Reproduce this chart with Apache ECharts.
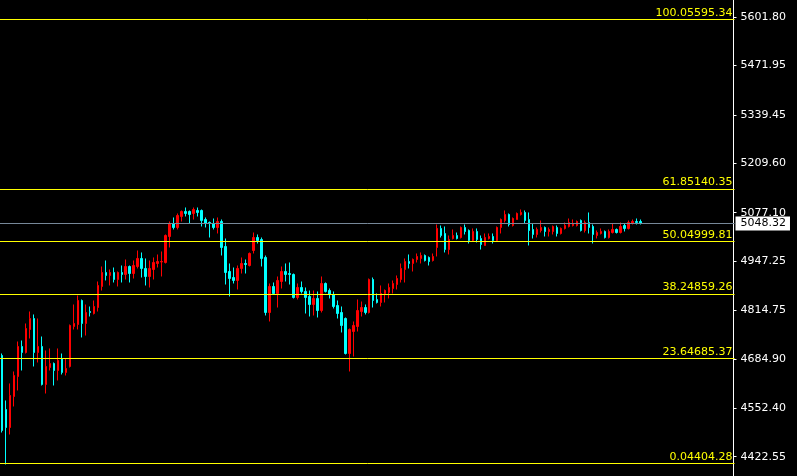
<!DOCTYPE html>
<html>
<head>
<meta charset="utf-8">
<script src="https://cdn.jsdelivr.net/npm/echarts@6/dist/echarts.min.js"></script>
<style>
  html, body { margin: 0; padding: 0; background: #000; }
  #chart { width: 797px; height: 476px; }
</style>
</head>
<body>
<div id="chart"></div>
<script>
// candle values, oldest first
const opens = [
  4694.0, 4549.1, 4500.8, 4584.0, 4637.6, 4718.1, 4702.0, 4763.7, 4793.2, 4702.0,
  4718.1, 4616.2, 4661.8, 4672.5, 4653.7, 4685.9, 4648.4, 4664.5, 4771.8, 4777.1,
  4841.5, 4779.8, 4812.0, 4806.6, 4822.7, 4879.1, 4916.6, 4908.6, 4916.6, 4897.9,
  4916.6, 4911.3, 4932.7, 4913.9, 4932.7, 4954.2, 4927.4, 4905.9, 4924.7, 4940.8,
  4944.8, 4943.5, 5013.2, 5048.1, 5037.4, 5066.9, 5080.3, 5080.3, 5074.9, 5083.0,
  5083.0, 5058.8, 5050.8, 5048.1, 5037.4, 5053.4, 4986.4, 4919.3, 4903.2, 4895.2,
  4927.4, 4940.8, 4935.4, 4975.6, 5010.5, 5005.2, 4956.9, 4809.3, 4879.1, 4860.3,
  4892.5, 4919.3, 4913.9, 4911.3, 4849.6, 4876.4, 4865.7, 4852.3, 4830.8, 4846.9,
  4814.7, 4887.1, 4868.3, 4857.6, 4828.1, 4809.3, 4793.2, 4699.3, 4758.4, 4771.8,
  4812.0, 4822.7, 4809.3, 4897.9, 4844.2, 4836.2, 4860.3, 4863.0, 4873.7, 4884.4,
  4897.9, 4924.7, 4946.1, 4940.8, 4951.5, 4954.2, 4962.2, 4956.9, 4948.8, 4983.7,
  5034.7, 5021.3, 4978.3, 5007.8, 5015.9, 5010.5, 5037.4, 5029.3, 5002.5, 5026.6,
  5007.8, 4989.1, 5007.8, 5013.2, 5002.5, 5037.4, 5056.1, 5072.2, 5042.7, 5058.8,
  5072.2, 5077.6, 5058.8, 5032.0, 5018.6, 5029.3, 5037.4, 5026.6, 5026.6, 5037.4,
  5021.3, 5034.7, 5040.0, 5042.7, 5042.7, 5056.1, 5029.3, 5050.8, 5040.0, 5015.9,
  5021.3, 5026.6, 5010.5, 5023.9, 5032.0, 5023.9, 5042.7, 5034.7, 5048.1, 5053.4,
  5053.4
];
const closes = [
  4492.8, 4500.8, 4586.7, 4640.3, 4718.1, 4702.0, 4766.4, 4793.2, 4702.0, 4718.1,
  4616.2, 4664.5, 4672.5, 4653.7, 4680.6, 4648.4, 4659.1, 4774.5, 4779.8, 4841.5,
  4779.8, 4809.3, 4809.3, 4825.4, 4881.8, 4916.6, 4908.6, 4916.6, 4897.9, 4916.6,
  4911.3, 4932.7, 4913.9, 4935.4, 4954.2, 4927.4, 4905.9, 4927.4, 4943.5, 4946.1,
  4946.1, 5015.9, 5048.1, 5037.4, 5069.5, 5080.3, 5074.9, 5072.2, 5085.6, 5077.6,
  5056.1, 5048.1, 5048.1, 5037.4, 5053.4, 4983.7, 4916.6, 4900.5, 4895.2, 4927.4,
  4940.8, 4938.1, 4967.6, 5010.5, 5002.5, 4954.2, 4809.3, 4879.1, 4860.3, 4895.2,
  4919.3, 4911.3, 4911.3, 4849.6, 4876.4, 4865.7, 4849.6, 4830.8, 4846.9, 4814.7,
  4887.1, 4865.7, 4857.6, 4825.4, 4806.6, 4774.5, 4699.3, 4763.7, 4774.5, 4814.7,
  4822.7, 4809.3, 4897.9, 4841.5, 4836.2, 4860.3, 4868.3, 4876.4, 4887.1, 4900.5,
  4927.4, 4946.1, 4940.8, 4951.5, 4959.6, 4962.2, 4948.8, 4946.1, 4959.6, 5034.7,
  5015.9, 4978.3, 5005.2, 5015.9, 5007.8, 5037.4, 5026.6, 5002.5, 5026.6, 5005.2,
  4991.7, 5010.5, 5013.2, 5002.5, 5037.4, 5058.8, 5072.2, 5045.4, 5061.5, 5074.9,
  5077.6, 5056.1, 5029.3, 5018.6, 5032.0, 5037.4, 5026.6, 5032.0, 5040.0, 5021.3,
  5034.7, 5042.7, 5050.8, 5048.1, 5053.4, 5029.3, 5050.8, 5037.4, 5018.6, 5023.9,
  5026.6, 5010.5, 5026.6, 5032.0, 5023.9, 5040.0, 5034.7, 5050.8, 5053.4, 5050.8,
  5048.32
];
const lows = [
  4487.4, 4401.6, 4482.0, 4557.2, 4600.1, 4653.7, 4699.3, 4739.6, 4664.5, 4675.2,
  4613.5, 4592.0, 4653.7, 4613.5, 4626.9, 4643.0, 4640.3, 4661.8, 4763.7, 4763.7,
  4742.3, 4747.6, 4798.6, 4804.0, 4812.0, 4868.3, 4895.2, 4881.8, 4889.8, 4879.1,
  4889.8, 4897.9, 4889.8, 4900.5, 4927.4, 4903.2, 4881.8, 4876.4, 4897.9, 4930.0,
  4905.9, 4940.8, 4983.7, 5032.0, 5032.0, 5053.4, 5066.9, 5048.1, 5058.8, 5066.9,
  5040.0, 5037.4, 5010.5, 5032.0, 5021.3, 4962.2, 4884.4, 4852.3, 4887.1, 4871.0,
  4913.9, 4913.9, 4932.7, 4967.6, 4994.4, 4932.7, 4801.3, 4785.2, 4857.6, 4822.7,
  4873.7, 4892.5, 4884.4, 4846.9, 4844.2, 4860.3, 4806.6, 4798.6, 4801.3, 4795.9,
  4809.3, 4863.0, 4846.9, 4820.1, 4793.2, 4755.7, 4696.7, 4651.1, 4691.3, 4758.4,
  4798.6, 4804.0, 4806.6, 4822.7, 4833.5, 4825.4, 4836.2, 4846.9, 4860.3, 4871.0,
  4889.8, 4889.8, 4927.4, 4919.3, 4943.5, 4940.8, 4946.1, 4935.4, 4946.1, 4959.6,
  5010.5, 4970.3, 4964.9, 5005.2, 5005.2, 5007.8, 5018.6, 4994.4, 4999.8, 4997.1,
  4978.3, 4989.1, 5005.2, 4994.4, 4999.8, 5021.3, 5050.8, 5040.0, 5040.0, 5058.8,
  5069.5, 5048.1, 4989.1, 5007.8, 5010.5, 5023.9, 5013.2, 5013.2, 5018.6, 5013.2,
  5018.6, 5032.0, 5037.4, 5040.0, 5040.0, 5026.6, 5023.9, 5021.3, 4994.4, 5007.8,
  5018.6, 5007.8, 5007.8, 5021.3, 5021.3, 5021.3, 5026.6, 5032.0, 5045.4, 5045.4,
  5045.4
];
const highs = [
  4699.3, 4573.3, 4618.9, 4651.1, 4731.5, 4734.2, 4779.8, 4812.0, 4804.0, 4793.2,
  4744.9, 4707.4, 4712.8, 4675.2, 4712.8, 4699.3, 4685.9, 4777.1, 4830.8, 4854.9,
  4844.2, 4830.8, 4825.4, 4841.5, 4892.5, 4932.7, 4948.8, 4924.7, 4930.0, 4919.3,
  4935.4, 4951.5, 4935.4, 4948.8, 4975.6, 4970.3, 4954.2, 4948.8, 4956.9, 4964.9,
  4973.0, 5018.6, 5053.4, 5064.2, 5074.9, 5083.0, 5091.0, 5083.0, 5091.0, 5091.0,
  5085.6, 5064.2, 5053.4, 5061.5, 5064.2, 5058.8, 5007.8, 4940.8, 4930.0, 4935.4,
  4956.9, 4951.5, 4970.3, 5023.9, 5018.6, 5010.5, 4962.2, 4887.1, 4889.8, 4905.9,
  4932.7, 4940.8, 4943.5, 4913.9, 4887.1, 4892.5, 4876.4, 4868.3, 4868.3, 4865.7,
  4905.9, 4889.8, 4873.7, 4865.7, 4841.5, 4825.4, 4795.9, 4766.4, 4785.2, 4844.2,
  4838.8, 4830.8, 4900.5, 4903.2, 4860.3, 4881.8, 4871.0, 4887.1, 4895.2, 4908.6,
  4940.8, 4954.2, 4964.9, 4954.2, 4967.6, 4970.3, 4964.9, 4959.6, 4967.6, 5045.4,
  5042.7, 5040.0, 5015.9, 5032.0, 5023.9, 5040.0, 5045.4, 5032.0, 5034.7, 5034.7,
  5015.9, 5021.3, 5021.3, 5021.3, 5040.0, 5061.5, 5083.0, 5074.9, 5064.2, 5077.6,
  5085.6, 5083.0, 5077.6, 5048.1, 5037.4, 5056.1, 5040.0, 5037.4, 5042.7, 5042.7,
  5037.4, 5050.8, 5061.5, 5058.8, 5056.1, 5058.8, 5056.1, 5077.6, 5045.4, 5029.3,
  5034.7, 5029.3, 5032.0, 5048.1, 5034.7, 5050.8, 5048.1, 5056.1, 5058.8, 5061.5,
  5058.8
];

// price scale labels on the right
const tickLabels = [5601.80, 5471.95, 5339.45, 5209.60, 5077.10, 4947.25, 4814.75, 4684.90, 4552.40, 4422.55];

// fibonacci retracement levels
const fibLevels = ['100.0', '61.8', '50.0', '38.2', '23.6', '0.0'];
const fibPrices = [5595.34, 5140.35, 4999.81, 4859.26, 4685.37, 4404.28];

const lastPrice = 5048.32;

// bar slots on the time axis (empty ones on the right)
const slotCount = 184;
const categories = Array.from({ length: slotCount }, (_, i) => String(i));

const candles = opens.map((o, i) => [o, closes[i], lows[i], highs[i]]);

const fibLines = fibPrices.map((p, i) => ({
    yAxis: p,
    lineStyle: { color: '#ffff00', width: 1, type: 'solid' },
    label: {
        show: true,
        position: 'insideEndTop',
        distance: [2, 1],
        formatter: fibLevels[i] + p.toFixed(2),
        color: '#ffff00',
        fontFamily: 'DejaVu Sans',
        fontSize: 11
    }
}));

const priceLine = {
    yAxis: lastPrice,
    lineStyle: { color: '#778899', width: 1, type: 'solid' },
    label: {
        show: true,
        position: 'end',
        distance: 1,
        formatter: lastPrice.toFixed(2),
        color: '#000',
        backgroundColor: '#fff',
        padding: [2, 4, 1, 5],
        fontFamily: 'DejaVu Sans',
        fontSize: 11
    }
};

const chart = echarts.init(document.getElementById('chart'));
chart.setOption({
    backgroundColor: '#000',
    animation: false,
    grid: { left: -1.5, right: 62.5, top: 0, bottom: 0 },
    xAxis: {
        type: 'category',
        data: categories,
        boundaryGap: true,
        axisLine: { show: false },
        axisTick: { show: false },
        axisLabel: { show: false },
        splitLine: { show: false }
    },
    yAxis: {
        type: 'value',
        position: 'right',
        offset: -1,
        min: 4370.7,
        max: 5647.6,
        scale: true,
        axisLine: { show: true, lineStyle: { color: '#fff', width: 1 } },
        axisTick: {
            show: true,
            length: 3,
            customValues: tickLabels,
            lineStyle: { color: '#fff' }
        },
        axisLabel: {
            show: true,
            margin: 7,
            customValues: tickLabels,
            formatter: v => v.toFixed(2),
            color: '#fff',
            fontFamily: 'DejaVu Sans',
            fontSize: 11
        },
        splitLine: { show: false }
    },
    series: [{
        type: 'candlestick',
        data: candles,
        barWidth: 2,
        itemStyle: {
            color: '#ff0000',
            color0: '#00ffff',
            borderColor: '#ff0000',
            borderColor0: '#00ffff',
            borderWidth: 1
        },
        markLine: {
            silent: true,
            symbol: 'none',
            animation: false,
            data: [priceLine].concat(fibLines)
        }
    }]
});
</script>
</body>
</html>
